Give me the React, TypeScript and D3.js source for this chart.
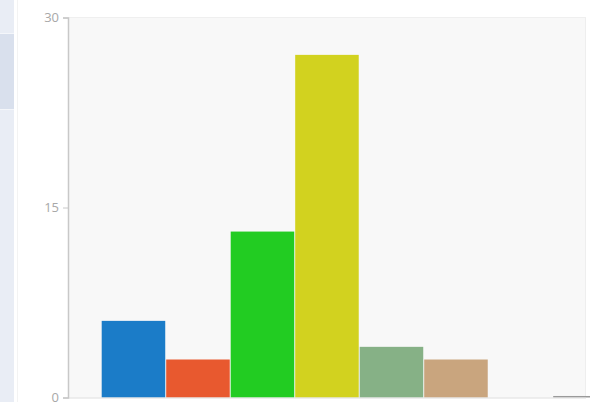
import React, { useEffect, useRef } from "react";
import * as d3 from "d3";

const categories = ["A", "B", "C", "D", "E", "F", "G", "H"];
const values = [6.05, 3, 13.1, 27.05, 4, 3, 0, 0.12];
const colors = ["#1b7cc8", "#e8592f", "#22cc22", "#d2d21f", "#86b186", "#c9a57e", "#cccccc", "#9a9a9a"];
const yTicks = [0, 15, 30];

const W = 590;
const H = 402;

export default function App() {
  const ref = useRef<SVGSVGElement>(null);
  useEffect(() => {
    const svg = d3.select(ref.current);
    svg.selectAll("*").remove();

    // sidebar
    svg.append("rect").attr("x", 0).attr("y", 0).attr("width", 14).attr("height", H).attr("fill", "#e9edf5");
    svg.append("rect").attr("x", 0).attr("y", 34).attr("width", 14).attr("height", 75).attr("fill", "#d9e0ed");
    svg.append("line").attr("x1", 0).attr("x2", 14).attr("y1", 33.5).attr("y2", 33.5).attr("stroke", "#f4f6fa");
    svg.append("line").attr("x1", 0).attr("x2", 14).attr("y1", 109.5).attr("y2", 109.5).attr("stroke", "#f4f6fa");
    svg.append("line").attr("x1", 17.5).attr("x2", 17.5).attr("y1", 0).attr("y2", H).attr("stroke", "#f3f3f3");

    const x0 = 68;
    const yBottom = 397.5;
    const yTop = 17.5;
    const step = 64.5;
    const rangeStart = 69.45;
    const pInner = 0.015;
    const x = d3.scaleBand<string>()
      .domain(categories)
      .range([rangeStart, rangeStart + step * (categories.length - pInner + 1)])
      .paddingInner(pInner)
      .paddingOuter(0.5);
    const y = d3.scaleLinear().domain([0, 30]).range([yBottom, yTop]);

    // plot background
    svg.append("rect").attr("x", x0).attr("y", yTop).attr("width", 586 - x0).attr("height", yBottom - yTop).attr("fill", "#f8f8f8");
    svg.append("line").attr("x1", x0).attr("x2", 586).attr("y1", yTop).attr("y2", yTop).attr("stroke", "#efefef");
    svg.append("line").attr("x1", 585.5).attr("x2", 585.5).attr("y1", yTop).attr("y2", yBottom).attr("stroke", "#eeeeee");

    // bars
    svg.append("g").selectAll("rect").data(categories).join("rect")
      .attr("x", (d) => x(d)!)
      .attr("width", x.bandwidth())
      .attr("y", (_, i) => y(values[i]))
      .attr("height", (_, i) => yBottom - y(values[i]))
      .attr("fill", (_, i) => colors[i]);

    // x baseline
    svg.append("line").attr("x1", x0).attr("x2", 586).attr("y1", yBottom + 0.5).attr("y2", yBottom + 0.5).attr("stroke", "#dddddd");

    // y axis
    const axis = d3.axisLeft(y).tickValues(yTicks).tickSize(5).tickPadding(4);
    const g = svg.append("g").attr("transform", `translate(${x0},0)`).call(axis);
    g.select(".domain").attr("stroke", "#c8c8c8").attr("stroke-width", 1.5);
    g.selectAll(".tick line").attr("stroke", "#c8c8c8");
    g.selectAll(".tick text").attr("fill", "#a8a8a8").attr("font-size", 13).attr("font-family", "Open Sans, sans-serif");
  }, []);
  return (
    <svg ref={ref} width={W} height={H} style={{ position: "absolute", left: 0, top: 0, background: "#fff" }} />
  );
}
